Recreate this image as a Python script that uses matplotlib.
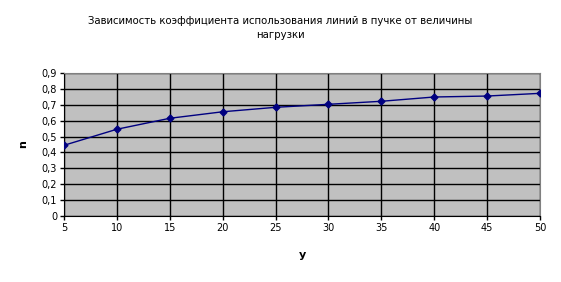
import matplotlib
matplotlib.use('Agg')
import matplotlib.pyplot as plt
from matplotlib.ticker import FuncFormatter

loads = [5, 10, 15, 20, 25, 30, 35, 40, 45, 50]
usage = [0.445, 0.546, 0.615, 0.656, 0.684, 0.703, 0.722, 0.749, 0.755, 0.772]
y_ticks = [0, 0.1, 0.2, 0.3, 0.4, 0.5, 0.6, 0.7, 0.8, 0.9]

fig = plt.figure(figsize=(5.61, 2.82), dpi=100)
ax = fig.add_axes([64 / 561, 1 - 216 / 282, (540 - 64) / 561, (216 - 73) / 282])
ax.set_facecolor('#c0c0c0')

ax.plot(loads, usage, color='#000080', lw=1, marker='D', ms=3.5, zorder=3)

ax.set_xlim(5, 50)
ax.set_ylim(0, 0.9)
ax.set_xticks(loads)
ax.set_yticks(y_ticks)
ax.yaxis.set_major_formatter(FuncFormatter(lambda v, p: ('%g' % round(v, 1)).replace('.', ',')))
ax.grid(True, color='black', lw=1)
ax.set_axisbelow(True)
ax.tick_params(labelsize=7, length=3, width=1, pad=2)

for side in ['top', 'right']:
    ax.spines[side].set_color('#808080')
for side in ['left', 'bottom']:
    ax.spines[side].set_color('black')

ax.set_xlabel('y', fontsize=8, fontweight='bold', labelpad=12)
ax.set_ylabel('n', fontsize=8, fontweight='bold', labelpad=10)

fig.text(0.5, 0.902, 'Зависимость коэффициента использования линий в пучке от величины\nнагрузки',
         ha='center', va='center', fontsize=7.3, linespacing=1.5)

fig.savefig('out.png', dpi=100)
